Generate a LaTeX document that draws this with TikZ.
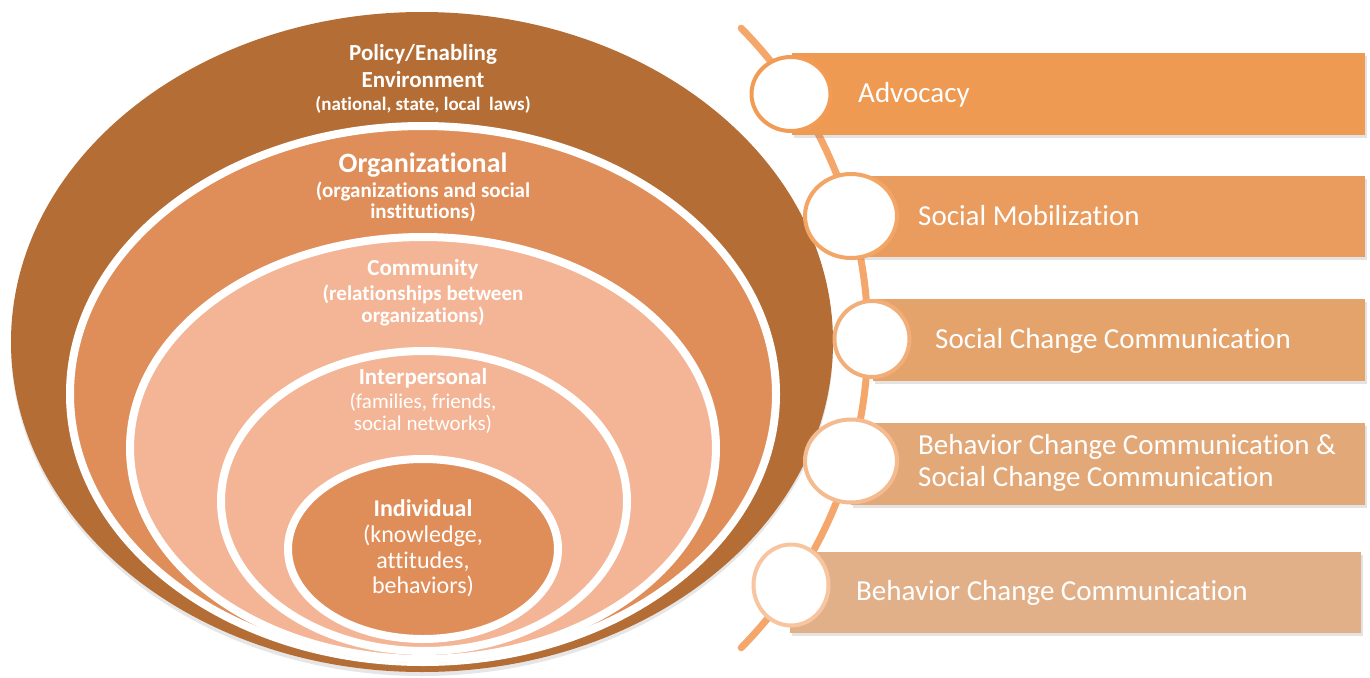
\documentclass[tikz,border=0pt]{standalone}
\usepackage{fontspec}
\setmainfont[Ligatures=NoCommon]{Carlito}
\usetikzlibrary{shadows,shapes.geometric}
\definecolor{brownc}{HTML}{B46D34}
\definecolor{orgc}{HTML}{E08E59}
\definecolor{comc}{HTML}{F4B596}
\definecolor{arcc}{HTML}{F5A66B}
\definecolor{barA}{HTML}{EF9A52}
\definecolor{barB}{HTML}{E99C5E}
\definecolor{barC}{HTML}{E5A36C}
\definecolor{barD}{HTML}{E3A877}
\definecolor{barE}{HTML}{E1B088}
\definecolor{ringA}{HTML}{F29B55}
\definecolor{ringB}{HTML}{F3A565}
\definecolor{ringC}{HTML}{F2AE78}
\definecolor{ringD}{HTML}{F5BB90}
\definecolor{ringE}{HTML}{F7C6A0}
\tikzset{
  shd/.style={drop shadow={opacity=0.2, shadow xshift=0pt, shadow yshift=-4pt}},
  barshd/.style={drop shadow={opacity=0.22, shadow xshift=1.5pt, shadow yshift=-3pt}},
  ringline/.style={draw=white, line width=8pt},
  bar/.style={rectangle, inner sep=0pt, anchor=north west, barshd},
  dot/.style={ellipse, fill=white, line width=4pt, inner sep=0pt},
  lblB/.style={text=white, anchor=base, inner sep=0pt, font=\fontsize{#1}{#1}\selectfont\bfseries},
  lblR/.style={text=white, anchor=base, inner sep=0pt, font=\fontsize{#1}{#1}\selectfont},
  itm/.style={text=white, anchor=base west, inner sep=0pt, font=\fontsize{29}{29}\selectfont},
}
\begin{document}
\begin{tikzpicture}[x=1pt,y=-1pt]
\useasboundingbox (0,0) rectangle (1370,677);
% nested ellipses
\path[fill=brownc, shd] (422,342) ellipse [x radius=411pt, y radius=330pt];
\path[fill=orgc, ringline, shd] (423,394) ellipse [x radius=353pt, y radius=268pt];
\path[fill=comc, ringline, shd] (423,448) ellipse [x radius=293pt, y radius=211pt];
\path[fill=comc, ringline, shd] (424,501) ellipse [x radius=203pt, y radius=150pt];
\path[fill=orgc, ringline, shd] (423,549) ellipse [x radius=135pt, y radius=90pt];
% labels
\node[lblB=23] (p1) at (423,61) {Policy/Enabling};
\node[lblB=23] (p2) at (423,88) {Environment};
\node[lblB=19] (p3) at (423,110) {(national, state, local \ laws)};
\node[lblB=28] (o1) at (423,172) {Organizational};
\node[lblB=21] (o2) at (423,197) {(organizations and social};
\node[lblB=21] (o3) at (423,218) {institutions)};
\node[lblB=23] (c1) at (423,275) {Community};
\node[lblB=21] (c2) at (423,300) {(relationships between};
\node[lblB=21] (c3) at (423,322) {organizations)};
\node[lblB=23] (i1) at (423,384) {Interpersonal};
\node[lblR=21] (i2) at (423,408) {(families, friends,};
\node[lblR=21] (i3) at (423,430) {social networks)};
\node[lblB=24] (n1) at (423,516) {Individual};
\node[lblR=24] (n2) at (423,542) {(knowledge,};
\node[lblR=24] (n3) at (423,568) {attitudes,};
\node[lblR=24] (n4) at (423,593) {behaviors)};
% timeline arc
\coordinate (atop) at (741.2,28.2);
\draw[arcc, line width=7pt, line cap=round] (atop) arc[start angle=44.5, end angle=-44.5, radius=442pt];
% bars
\node[bar, fill=barA, minimum width=573pt, minimum height=82pt] (b1) at (792,53) {};
\node[bar, fill=barB, minimum width=515pt, minimum height=81pt] (b2) at (850,176) {};
\node[bar, fill=barC, minimum width=492pt, minimum height=82pt] (b3) at (873,299) {};
\node[bar, fill=barD, minimum width=514pt, minimum height=82pt] (b4) at (851,423) {};
\node[bar, fill=barE, minimum width=571pt, minimum height=81pt] (b5) at (790,552) {};
% circles
\node[dot, draw=ringA, minimum width=79pt, minimum height=74pt] (d1) at (791,94) {};
\node[dot, draw=ringB, minimum width=92pt, minimum height=84pt] (d2) at (851,216) {};
\node[dot, draw=ringC, minimum width=75pt, minimum height=76pt] (d3) at (872,339) {};
\node[dot, draw=ringD, minimum width=92pt, minimum height=83pt] (d4) at (851,461) {};
\node[dot, draw=ringE, minimum width=75pt, minimum height=81pt] (d5) at (791,585) {};
% item texts
\node[itm] (t1) at (858,102) {Advocacy};
\node[itm] (t2) at (918,225) {Social Mobilization};
\node[itm] (t3) at (935,348) {Social Change Communication};
\node[itm] (t4) at (918,454) {Behavior Change Communication \&};
\node[itm] (t4b) at (918,486) {Social Change Communication};
\node[itm] (t5) at (856,600) {Behavior Change Communication};
\end{tikzpicture}
\end{document}
